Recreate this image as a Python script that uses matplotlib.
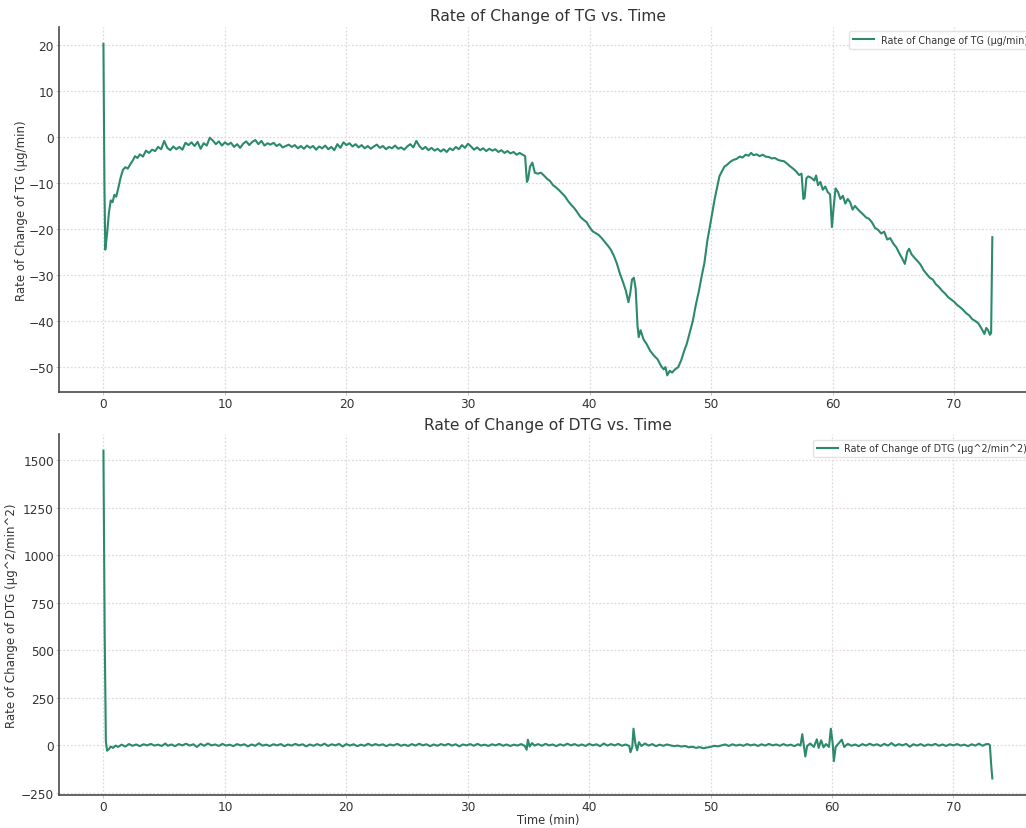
import numpy as np
import matplotlib
matplotlib.use("Agg")
import matplotlib.pyplot as plt

# ---------------- data ----------------
tg_time = [
    0.0, 0.08, 0.15, 0.3, 0.45, 0.6, 0.75, 0.9, 1.05, 1.2, 1.4, 1.6, 1.8, 2.0, 2.2, 2.4, 2.6, 2.8,
    3.0, 3.25, 3.5, 3.75, 4.0, 4.25, 4.5, 4.75, 5.0, 5.25, 5.5, 5.75, 6.0, 6.25, 6.5, 6.75,
    7.0, 7.25, 7.5, 7.75, 8.0, 8.25, 8.5, 8.75, 9.0, 9.25, 9.5, 9.75, 10.0, 10.25, 10.5, 10.75,
    11.0, 11.25, 11.5, 11.75, 12.0, 12.25, 12.5, 12.75, 13.0, 13.25, 13.5, 13.75, 14.0, 14.25,
    14.5, 14.75, 15.0, 15.25, 15.5, 15.75, 16.0, 16.25, 16.5, 16.75, 17.0, 17.25, 17.5, 17.75,
    18.0, 18.25, 18.5, 18.75, 19.0, 19.25, 19.5, 19.75, 20.0, 20.25, 20.5, 20.75, 21.0, 21.25,
    21.5, 21.75, 22.0, 22.25, 22.5, 22.75, 23.0, 23.25, 23.5, 23.75, 24.0, 24.25, 24.5, 24.75,
    25.0, 25.25, 25.5, 25.75, 26.0, 26.25, 26.5, 26.75, 27.0, 27.25, 27.5, 27.75, 28.0, 28.25,
    28.5, 28.75, 29.0, 29.25, 29.5, 29.75, 30.0, 30.25, 30.5, 30.75, 31.0, 31.25, 31.5, 31.75,
    32.0, 32.25, 32.5, 32.75, 33.0, 33.25, 33.5, 33.75, 34.0, 34.25, 34.5, 34.7, 34.85, 34.95,
    35.1, 35.3, 35.5, 35.75, 36.0, 36.25, 36.5, 36.75, 37.0, 37.25, 37.5, 37.75, 38.0, 38.25,
    38.5, 38.75, 39.0, 39.25, 39.5, 39.75, 40.0, 40.25, 40.5, 40.75, 41.0, 41.25, 41.5, 41.75,
    42.0, 42.25, 42.5, 42.75, 43.0, 43.2, 43.35, 43.5, 43.65, 43.8, 43.95, 44.05, 44.2, 44.45,
    44.7, 45.0, 45.3, 45.6, 45.9, 46.1, 46.25, 46.4, 46.6, 46.8, 47.0, 47.3, 47.55, 47.8, 48.0,
    48.25, 48.5, 48.75, 49.0, 49.25, 49.45, 49.7, 49.9, 50.1, 50.3, 50.5, 50.7, 50.9, 51.1,
    51.35, 51.6, 51.85, 52.1, 52.35, 52.6, 52.85, 53.1, 53.3, 53.5, 53.75, 54.0, 54.25, 54.5,
    54.75, 55.0, 55.25, 55.5, 55.75, 56.0, 56.25, 56.5, 56.75, 57.0, 57.25, 57.45, 57.6, 57.7,
    57.85, 58.0, 58.25, 58.5, 58.65, 58.8, 59.0, 59.2, 59.4, 59.6, 59.8, 59.95, 60.1, 60.25,
    60.45, 60.65, 60.85, 61.05, 61.25, 61.45, 61.65, 61.85, 62.0, 62.25, 62.5, 62.75, 63.0,
    63.25, 63.5, 63.75, 64.0, 64.25, 64.5, 64.75, 65.0, 65.25, 65.5, 65.75, 65.95, 66.15, 66.3,
    66.5, 66.75, 67.0, 67.25, 67.5, 67.75, 68.0, 68.25, 68.5, 68.75, 69.0, 69.25, 69.5, 69.75,
    70.0, 70.25, 70.5, 70.75, 71.0, 71.25, 71.5, 71.75, 72.0, 72.25, 72.5, 72.65, 72.8, 72.95,
    73.05, 73.15,
]
tg_rate = [
    20.2, -10.0, -24.5, -21.0, -16.5, -13.8, -14.2, -12.6, -13.0, -11.4, -9.0, -7.2, -6.6, -6.9, -6.0, -5.2, -4.2, -4.6,
    -3.8, -4.3, -3.0, -3.5, -2.8, -3.1, -2.2, -2.7, -0.9, -2.4, -2.9, -2.1, -2.7, -2.2, -2.8, -1.3,
    -1.8, -1.2, -2.0, -1.1, -2.6, -1.4, -1.9, -0.2, -0.8, -1.6, -1.0, -1.9, -1.2, -1.7, -1.3, -2.2,
    -1.6, -2.4, -1.5, -1.0, -1.8, -1.1, -0.7, -1.6, -0.9, -1.9, -1.4, -1.7, -1.3, -2.0,
    -1.6, -2.3, -2.0, -1.7, -2.2, -1.8, -2.5, -2.0, -2.6, -1.9, -2.4, -2.0, -2.8, -2.1,
    -2.5, -1.9, -2.7, -2.2, -2.9, -1.6, -2.4, -1.2, -1.8, -1.4, -2.1, -1.6, -2.3, -1.8,
    -2.5, -2.0, -2.6, -2.1, -1.7, -2.4, -2.0, -2.7, -2.2, -2.5, -1.9, -2.6, -2.3, -2.8,
    -2.1, -1.6, -2.3, -0.9, -2.0, -2.7, -2.2, -2.9, -2.4, -3.0, -2.6, -3.2, -2.7, -3.3,
    -2.5, -2.9, -2.2, -2.7, -1.8, -2.4, -1.5, -2.1, -2.8, -2.3, -2.9, -2.5, -3.1, -2.6,
    -3.0, -2.7, -3.3, -2.9, -3.5, -3.1, -3.6, -3.3, -3.9, -3.5, -3.9, -4.2, -9.8, -9.2,
    -6.5, -5.6, -7.8, -8.0, -7.8, -8.4, -9.1, -9.6, -10.5, -11.0, -11.6, -12.3, -13.0, -14.0,
    -14.8, -15.5, -16.4, -17.4, -18.0, -18.5, -19.6, -20.5, -20.9, -21.3, -22.0, -22.8, -23.6, -24.5,
    -25.8, -27.5, -29.7, -31.5, -33.5, -35.9, -34.0, -31.0, -30.6, -33.0, -41.0, -43.5, -42.0, -44.0,
    -45.0, -46.5, -47.5, -48.3, -49.8, -50.5, -50.0, -51.8, -50.8, -51.2, -50.6, -50.0, -48.5, -46.4, -45.0,
    -42.5, -40.0, -36.5, -33.5, -30.0, -27.5, -22.5, -19.6, -16.5, -13.5, -11.0, -8.5, -7.5, -6.5,
    -6.0, -5.4, -5.0, -4.8, -4.3, -4.5, -3.9, -4.1, -3.5, -4.0, -3.8, -4.2, -3.9, -4.3,
    -4.4, -4.7, -4.6, -5.0, -5.2, -5.3, -5.8, -6.4, -6.9, -7.5, -8.3, -8.0, -13.5, -13.3,
    -9.0, -8.6, -8.9, -9.5, -8.4, -10.5, -9.8, -11.5, -10.8, -12.0, -12.5, -19.6, -15.0, -11.2,
    -12.0, -13.5, -12.8, -14.5, -13.5, -14.2, -15.8, -15.0, -15.5, -16.2, -16.8, -17.5, -17.8,
    -18.6, -19.8, -20.2, -21.0, -20.6, -22.3, -22.0, -23.2, -24.0, -25.3, -26.5, -27.6, -25.0, -24.3,
    -25.5, -26.3, -27.0, -27.8, -29.0, -29.8, -30.6, -31.0, -32.0, -32.6, -33.4, -34.0, -34.8, -35.3,
    -35.8, -36.5, -37.0, -37.6, -38.3, -38.8, -39.6, -40.0, -40.5, -41.6, -42.8, -41.5, -42.0, -43.0,
    -42.6, -21.8,
]

dtg_time = [
    0.0, 0.1, 0.2, 0.3, 0.45, 0.6, 0.8, 1.0, 1.2, 1.5, 1.8, 2.1, 2.4, 2.7, 3.0, 3.3, 3.6, 3.9,
    4.2, 4.5, 4.8, 5.1, 5.3, 5.6, 5.9, 6.2, 6.5, 6.8, 7.1, 7.4, 7.7, 8.0, 8.3, 8.6, 8.9, 9.2,
    9.5, 9.8, 10.1, 10.4, 10.7, 11.0, 11.3, 11.6, 11.9, 12.2, 12.5, 12.8, 13.1, 13.4, 13.7,
    14.0, 14.3, 14.6, 14.9, 15.2, 15.5, 15.8, 16.1, 16.4, 16.7, 17.0, 17.3, 17.6, 17.9, 18.2,
    18.5, 18.8, 19.1, 19.4, 19.7, 20.0, 20.3, 20.6, 20.9, 21.2, 21.5, 21.8, 22.1, 22.4, 22.7,
    23.0, 23.3, 23.6, 23.9, 24.2, 24.5, 24.8, 25.1, 25.4, 25.7, 26.0, 26.3, 26.6, 26.9, 27.2,
    27.5, 27.8, 28.1, 28.4, 28.7, 29.0, 29.3, 29.6, 29.9, 30.2, 30.5, 30.8, 31.1, 31.4, 31.7,
    32.0, 32.3, 32.6, 32.9, 33.2, 33.5, 33.8, 34.1, 34.4, 34.7, 34.85, 34.95, 35.1, 35.3, 35.5,
    35.8, 36.1, 36.4, 36.7, 37.0, 37.3, 37.6, 37.9, 38.2, 38.5, 38.8, 39.1, 39.4, 39.7, 40.0,
    40.3, 40.6, 40.9, 41.2, 41.5, 41.8, 42.1, 42.4, 42.7, 43.0, 43.3, 43.4, 43.55, 43.65, 43.8,
    43.95, 44.1, 44.3, 44.6, 44.9, 45.2, 45.5, 45.8, 46.1, 46.4, 46.7, 47.0, 47.3, 47.6, 47.9,
    48.2, 48.5, 48.8, 49.1, 49.4, 49.7, 50.0, 50.3, 50.6, 50.9, 51.2, 51.5, 51.8, 52.1, 52.4,
    52.7, 53.0, 53.3, 53.6, 53.9, 54.2, 54.5, 54.8, 55.1, 55.4, 55.7, 56.0, 56.3, 56.6, 56.9,
    57.2, 57.4, 57.55, 57.7, 57.8, 57.95, 58.2, 58.5, 58.75, 58.9, 59.1, 59.3, 59.5, 59.75,
    59.9, 60.05, 60.15, 60.3, 60.5, 60.8, 61.0, 61.3, 61.6, 61.9, 62.2, 62.5, 62.8, 63.1, 63.4,
    63.7, 64.0, 64.3, 64.6, 64.9, 65.2, 65.5, 65.8, 66.1, 66.4, 66.7, 67.0, 67.3, 67.6, 67.9,
    68.2, 68.5, 68.8, 69.1, 69.4, 69.7, 70.0, 70.3, 70.6, 70.9, 71.2, 71.5, 71.8, 72.1, 72.4,
    72.7, 72.9, 73.0, 73.1, 73.2,
]
dtg_rate = [
    1550, 600, 20, -30, -22, -8, -15, -3, -10, 2, -8, 5, -4, 3, -6, 4, -2, 6,
    -3, 2, -5, 8, -4, 3, -6, 5, -2, 7, -3, 4, -10, 6, -4, 8, -2, 3,
    -5, 6, -3, 2, -6, 5, -2, 4, -7, 3, -4, 9, -3, 2, -5,
    4, -2, 5, -6, 3, -3, 6, -2, 4, -7, 3, -4, 5, -3, 7,
    -5, 4, -2, 6, -8, 5, -3, 4, -6, 2, -4, 7, -3, 5, -2,
    4, -6, 3, -2, 6, -4, 2, -5, 5, -3, 7, -2, 4, -6, 3,
    -4, 5, -2, 6, -3, 4, -7, 3, -2, 5, -4, 6, -3, 2, -5,
    4, -2, 6, -4, 3, -5, 2, -3, 5, -5, -25, 28, -8, 10, -3,
    5, -4, 6, -2, 3, -6, 4, -3, 7, -2, 5, -4, 3, -5, 6,
    -2, 4, -6, 8, -3, 5, -2, 6, -4, 3, -5, -38, -10, 86, 10,
    -28, 15, -5, 8, -3, 5, -6, 2, -4, 3, -2, -6, -3, -8, -5,
    -12, -9, -15, -11, -17, -13, -10, -4, -7, -2, 3, -5, 4, -3, 2,
    -4, 5, -2, 3, -5, 4, -3, 6, -2, 3, -4, 5, -3, 2, -6,
    4, -3, 57, -15, -60, -5, 8, -10, 30, -15, 25, -12, 5, -10,
    86, 10, -85, -10, 5, 28, -10, 6, -4, 3, -6, 5, -3, 7, -2,
    4, -5, 6, -3, 10, -4, 5, -2, 6, -9, 4, -3, 5, -5, 3,
    -2, 6, -4, 3, -5, 4, -2, 5, -3, 2, -6, 4, -3, 7, -4,
    5, 5, -2, -100, -176,
]

tg_label = "Rate of Change of TG (µg/min)"
dtg_label = "Rate of Change of DTG (µg^2/min^2)"

# ---------------- style ----------------
line_color = "#2b8a6a"
text_color = "#333333"
grid_color = "#e2dada"
spine_color = "#4a4a4a"

plt.rcParams["font.family"] = ["DejaVu Sans"]

fig = plt.figure(figsize=(10.26, 8.29), dpi=100)
ax1 = fig.add_axes([0.0575, 0.526, 0.953, 0.440])
ax2 = fig.add_axes([0.0575, 0.040, 0.953, 0.435])


def style(ax):
    ax.grid(True, linestyle=(0, (1.5, 1.5)), color=grid_color, linewidth=0.9)
    ax.set_axisbelow(True)
    for s in ("top", "right"):
        ax.spines[s].set_visible(False)
    for s in ("left", "bottom"):
        ax.spines[s].set_color(spine_color)
        ax.spines[s].set_linewidth(1.2)
    ax.tick_params(axis="both", labelsize=8.7, colors=text_color, length=2.2,
                   width=0.6, pad=1.5)
    ax.tick_params(axis="both", color="#bbbbbb")


ax1.plot(tg_time, tg_rate, color=line_color, linewidth=1.5, label=tg_label)
style(ax1)
ax1.set_title("Rate of Change of TG vs. Time", fontsize=11.2, color=text_color, pad=5)
ax1.set_ylabel(tg_label, fontsize=8.5, color=text_color)
ax1.yaxis.set_label_coords(-0.032, 0.5)
ax1.set_yticks([20, 10, 0, -10, -20, -30, -40, -50])
ax1.set_xticks([0, 10, 20, 30, 40, 50, 60, 70])
leg1 = ax1.legend(loc="upper left", bbox_to_anchor=(0.808, 0.99), borderaxespad=0,
                  fontsize=6.9, frameon=True, borderpad=0.4, handletextpad=0.7,
                  handlelength=2.2, edgecolor="#dddddd", fancybox=True)
for t in leg1.get_texts():
    t.set_color(text_color)

ax2.plot(dtg_time, dtg_rate, color=line_color, linewidth=1.5, label=dtg_label)
style(ax2)
ax2.set_title("Rate of Change of DTG vs. Time", fontsize=11.2, color=text_color, pad=4)
ax2.set_ylabel(dtg_label, fontsize=8.5, color=text_color)
ax2.yaxis.set_label_coords(-0.042, 0.5)
ax2.set_xlabel("Time (min)", fontsize=8.3, color=text_color, labelpad=0)
ax2.set_yticks([1500, 1250, 1000, 750, 500, 250, 0, -250])
ax2.set_xticks([0, 10, 20, 30, 40, 50, 60, 70])
leg2 = ax2.legend(loc="upper left", bbox_to_anchor=(0.771, 0.985), borderaxespad=0,
                  fontsize=6.9, frameon=True, borderpad=0.4, handletextpad=0.7,
                  handlelength=2.2, edgecolor="#dddddd", fancybox=True)
for t in leg2.get_texts():
    t.set_color(text_color)

fig.savefig("out.png", dpi=100, facecolor="white")
